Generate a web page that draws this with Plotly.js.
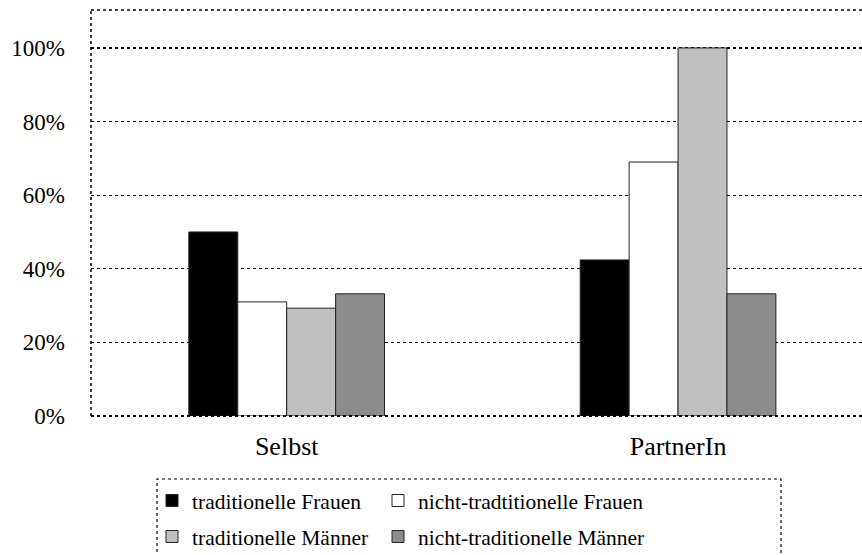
<!DOCTYPE html>
<html>
<head>
<meta charset="utf-8">
<script src="https://cdn.plot.ly/plotly-3.0.1.min.js"></script>
<style>html,body{margin:0;padding:0;overflow:hidden;background:#fff}</style>
</head>
<body>
<div id="chart" style="width:862px;height:555px"></div>
<script>
const categories = ["Selbst", "PartnerIn"];
const seriesNames = ["traditionelle Frauen", "nicht-tradtitionelle Frauen", "traditionelle Männer", "nicht-traditionelle Männer"];
const tradFrauen = [50, 42.4];
const nichtTradFrauen = [31, 69];
const tradMaenner = [29.3, 100];
const nichtTradMaenner = [33.2, 33.2];
const yTickVals = [0, 20, 40, 60, 80, 100];
const yTickText = ["0%", "20%", "40%", "60%", "80%", "100%"];

const colors = ["#000000", "#ffffff", "#c0c0c0", "#8c8c8c"];
const values = [tradFrauen, nichtTradFrauen, tradMaenner, nichtTradMaenner];
const legendIds = ["legend", "legend2", "legend3", "legend4"];

const traces = values.map((v, i) => ({
  type: "bar",
  x: categories,
  y: v,
  name: seriesNames[i],
  legend: legendIds[i],
  marker: {color: colors[i], line: {color: "#222", width: 1}},
  hoverinfo: "none"
}));

const FAM = "Liberation Serif, Times New Roman, serif";
function f(size) { return {family: FAM, size: size, color: "#000"}; }

function leg(px, py) {
  return {
    orientation: "h", xref: "container", yref: "container",
    x: px / 862, xanchor: "left", y: 1 - py / 555, yanchor: "top",
    font: f(21.5), bgcolor: "rgba(0,0,0,0)", borderwidth: 0
  };
}

const layout = {
  width: 862, height: 555,
  margin: {l: 91, r: 0, t: 10, b: 139, pad: 0, autoexpand: false},
  paper_bgcolor: "#fff", plot_bgcolor: "#fff",
  barmode: "group", bargap: 0.5, bargroupgap: 0,
  font: f(22),
  showlegend: true,
  xaxis: {
    type: "category",
    range: [-0.5, 1.47],
    showgrid: false, zeroline: false, showline: false,
    ticks: "", ticklabelstandoff: 12,
    tickfont: f(26), automargin: false
  },
  yaxis: {
    range: [0, 110.3],
    tickvals: yTickVals, ticktext: yTickText,
    showgrid: true, gridcolor: "#000", gridwidth: 1.3, griddash: "dot",
    zeroline: false, showline: false, ticks: "",
    ticklabelstandoff: 25,
    tickfont: f(23), automargin: false
  },
  legend: leg(152, 480),
  legend2: leg(378, 480),
  legend3: leg(152, 516),
  legend4: leg(378, 516),
  shapes: [
    {type: "line", xref: "paper", yref: "paper", x0: 0, x1: 0, y0: 0, y1: 1, line: {color: "#000", width: 1.5, dash: "dot"}},
    {type: "line", xref: "paper", yref: "paper", x0: 0, x1: 1, y0: 1, y1: 1, line: {color: "#000", width: 1.5, dash: "dot"}},
    {type: "line", xref: "paper", yref: "paper", x0: 0, x1: 1, y0: 0, y1: 0, line: {color: "#000", width: 2, dash: "dot"}},
    {type: "rect", xref: "paper", yref: "paper", x0: (157 - 91) / 771, x1: (781 - 91) / 771, y0: -(565 - 416) / 406, y1: -(479 - 416) / 406, line: {color: "#000", width: 1.2, dash: "dot"}}
  ]
};

Plotly.newPlot("chart", traces, layout, {staticPlot: true, displayModeBar: false});
</script>
</body>
</html>
